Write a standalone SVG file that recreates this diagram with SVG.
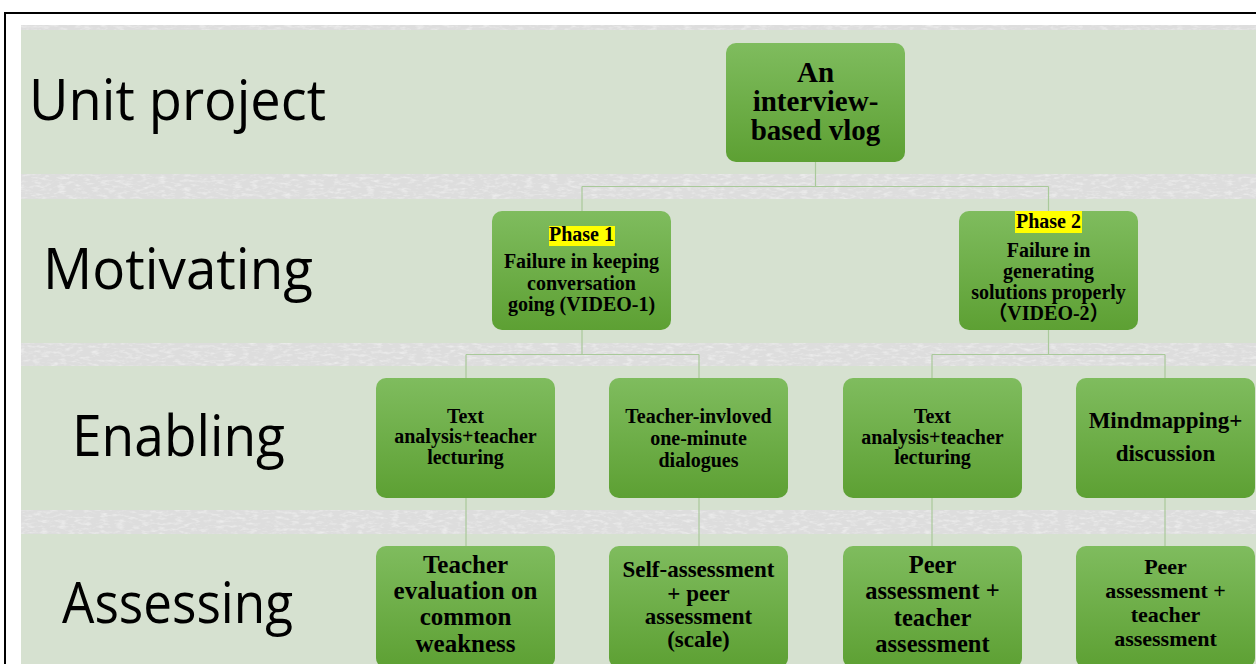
<svg xmlns="http://www.w3.org/2000/svg" width="1256" height="664" viewBox="0 0 1256 664">
<defs>
<linearGradient id="g" x1="0" y1="0" x2="0" y2="1">
<stop offset="0" stop-color="#7FBC5E"/>
<stop offset="1" stop-color="#5DA033"/>
</linearGradient>
<filter id="noise" x="0" y="0" width="100%" height="100%">
<feTurbulence type="fractalNoise" baseFrequency="0.12 0.35" numOctaves="3" seed="4" result="t"/>
<feColorMatrix in="t" type="matrix" values="0 0 0 0 1  0 0 0 0 1  0 0 0 0 1  0 0 0 1.0 -0.45"/>
<feComposite in2="SourceGraphic" operator="in" result="n"/>
<feMerge><feMergeNode in="SourceGraphic"/><feMergeNode in="n"/></feMerge>
</filter>
<style>
.band{fill:#D6E1D0}
.strip{fill:#DDDDDD}
.row{font-family:"Open Sans","Noto Sans",sans-serif;font-size:56px;fill:#000}
.node rect.box{fill:url(#g)}
.node text{font-family:"Liberation Serif","Times New Roman",serif;font-weight:bold;fill:#000;text-anchor:middle}
.hl{fill:#FFFF00}
.conn{stroke:#A9C99A;stroke-width:1.2;fill:none}
</style>
</defs>
<rect x="0" y="0" width="1256" height="664" fill="#FFFFFF"/>
<rect x="5" y="13" width="1300" height="700" fill="none" stroke="#000" stroke-width="2"/>
<g id="background">
<rect class="strip" x="21" y="25" width="1235" height="5" filter="url(#noise)"/>
<rect class="band" x="21" y="30" width="1235" height="144"/>
<rect class="strip" x="21" y="174" width="1235" height="25" filter="url(#noise)"/>
<rect class="band" x="21" y="199" width="1235" height="144"/>
<rect class="strip" x="21" y="343" width="1235" height="23" filter="url(#noise)"/>
<rect class="band" x="21" y="366" width="1235" height="144"/>
<rect class="strip" x="21" y="510" width="1235" height="24" filter="url(#noise)"/>
<rect class="band" x="21" y="534" width="1235" height="130"/>
</g>
<g id="row-labels">
<text class="row" x="29" y="120" textLength="297" lengthAdjust="spacingAndGlyphs">Unit project</text>
<text class="row" x="43" y="289" textLength="270" lengthAdjust="spacingAndGlyphs">Motivating</text>
<text class="row" x="72" y="456" textLength="213" lengthAdjust="spacingAndGlyphs">Enabling</text>
<text class="row" x="62" y="623" textLength="231" lengthAdjust="spacingAndGlyphs">Assessing</text>
</g>
<g id="connectors">
<path class="conn" d="M815.5 162 V186.5 M582 186.5 H1048.5 M582 186.5 V211 M1048.5 186.5 V211"/>
<path class="conn" d="M582 330 V354.5 M466 354.5 H699 M466 354.5 V378 M699 354.5 V378"/>
<path class="conn" d="M1048.5 330 V354.5 M932 354.5 H1165 M932 354.5 V378 M1165 354.5 V378"/>
<path class="conn" d="M466 498 V546 M699 498 V546 M932 498 V546 M1165 498 V546"/>
</g>
<g id="node-vlog" class="node">
<rect class="box" x="726" y="43" width="179" height="119" rx="10"/>
<text font-size="29"><tspan x="815.5" y="82">An</tspan><tspan x="815.5" y="111">interview-</tspan><tspan x="815.5" y="140">based vlog</tspan></text>
</g>
<g id="node-phase1" class="node">
<rect class="box" x="492" y="211" width="179" height="119" rx="10"/>
<rect class="hl" x="549" y="226" width="66" height="20"/>
<text font-size="20"><tspan x="581.5" y="241">Phase 1</tspan><tspan x="581.5" y="268">Failure in keeping</tspan><tspan x="581.5" y="290">conversation</tspan><tspan x="581.5" y="311">going (VIDEO-1)</tspan></text>
</g>
<g id="node-phase2" class="node">
<rect class="box" x="959" y="211" width="179" height="119" rx="10"/>
<rect class="hl" x="1015" y="211" width="67" height="22"/>
<text font-size="20"><tspan x="1048.5" y="228">Phase 2</tspan><tspan x="1048.5" y="257">Failure in</tspan><tspan x="1048.5" y="278">generating</tspan><tspan x="1048.5" y="299">solutions properly</tspan><tspan x="1048.5" y="320" font-family="'Liberation Serif','Noto Sans CJK SC',serif">（VIDEO-2）</tspan></text>
</g>
<g id="node-enable1" class="node">
<rect class="box" x="376" y="378" width="179" height="120" rx="10"/>
<text font-size="20"><tspan x="465.5" y="423">Text</tspan><tspan x="465.5" y="443">analysis+teacher</tspan><tspan x="465.5" y="464">lecturing</tspan></text>
</g>
<g id="node-enable2" class="node">
<rect class="box" x="609" y="378" width="179" height="120" rx="10"/>
<text font-size="20"><tspan x="698.5" y="423">Teacher-invloved</tspan><tspan x="698.5" y="445">one-minute</tspan><tspan x="698.5" y="467">dialogues</tspan></text>
</g>
<g id="node-enable3" class="node">
<rect class="box" x="843" y="378" width="179" height="120" rx="10"/>
<text font-size="20"><tspan x="932.5" y="423">Text</tspan><tspan x="932.5" y="444">analysis+teacher</tspan><tspan x="932.5" y="464">lecturing</tspan></text>
</g>
<g id="node-enable4" class="node">
<rect class="box" x="1076" y="378" width="179" height="120" rx="10"/>
<text font-size="23"><tspan x="1165.5" y="428">Mindmapping+</tspan><tspan x="1165.5" y="461">discussion</tspan></text>
</g>
<g id="node-assess1" class="node">
<rect class="box" x="376" y="546" width="179" height="122" rx="10"/>
<text font-size="25"><tspan x="465.5" y="573">Teacher</tspan><tspan x="465.5" y="599">evaluation on</tspan><tspan x="465.5" y="625">common</tspan><tspan x="465.5" y="652">weakness</tspan></text>
</g>
<g id="node-assess2" class="node">
<rect class="box" x="609" y="546" width="179" height="122" rx="10"/>
<text font-size="23"><tspan x="698.5" y="577">Self-assessment</tspan><tspan x="698.5" y="601">+ peer</tspan><tspan x="698.5" y="624">assessment</tspan><tspan x="698.5" y="647">(scale)</tspan></text>
</g>
<g id="node-assess3" class="node">
<rect class="box" x="843" y="546" width="179" height="122" rx="10"/>
<text font-size="24.5"><tspan x="932.5" y="573">Peer</tspan><tspan x="932.5" y="599">assessment +</tspan><tspan x="932.5" y="626">teacher</tspan><tspan x="932.5" y="652">assessment</tspan></text>
</g>
<g id="node-assess4" class="node">
<rect class="box" x="1076" y="546" width="179" height="122" rx="10"/>
<text font-size="22"><tspan x="1165.5" y="574">Peer</tspan><tspan x="1165.5" y="598">assessment +</tspan><tspan x="1165.5" y="622">teacher</tspan><tspan x="1165.5" y="646">assessment</tspan></text>
</g>
</svg>
